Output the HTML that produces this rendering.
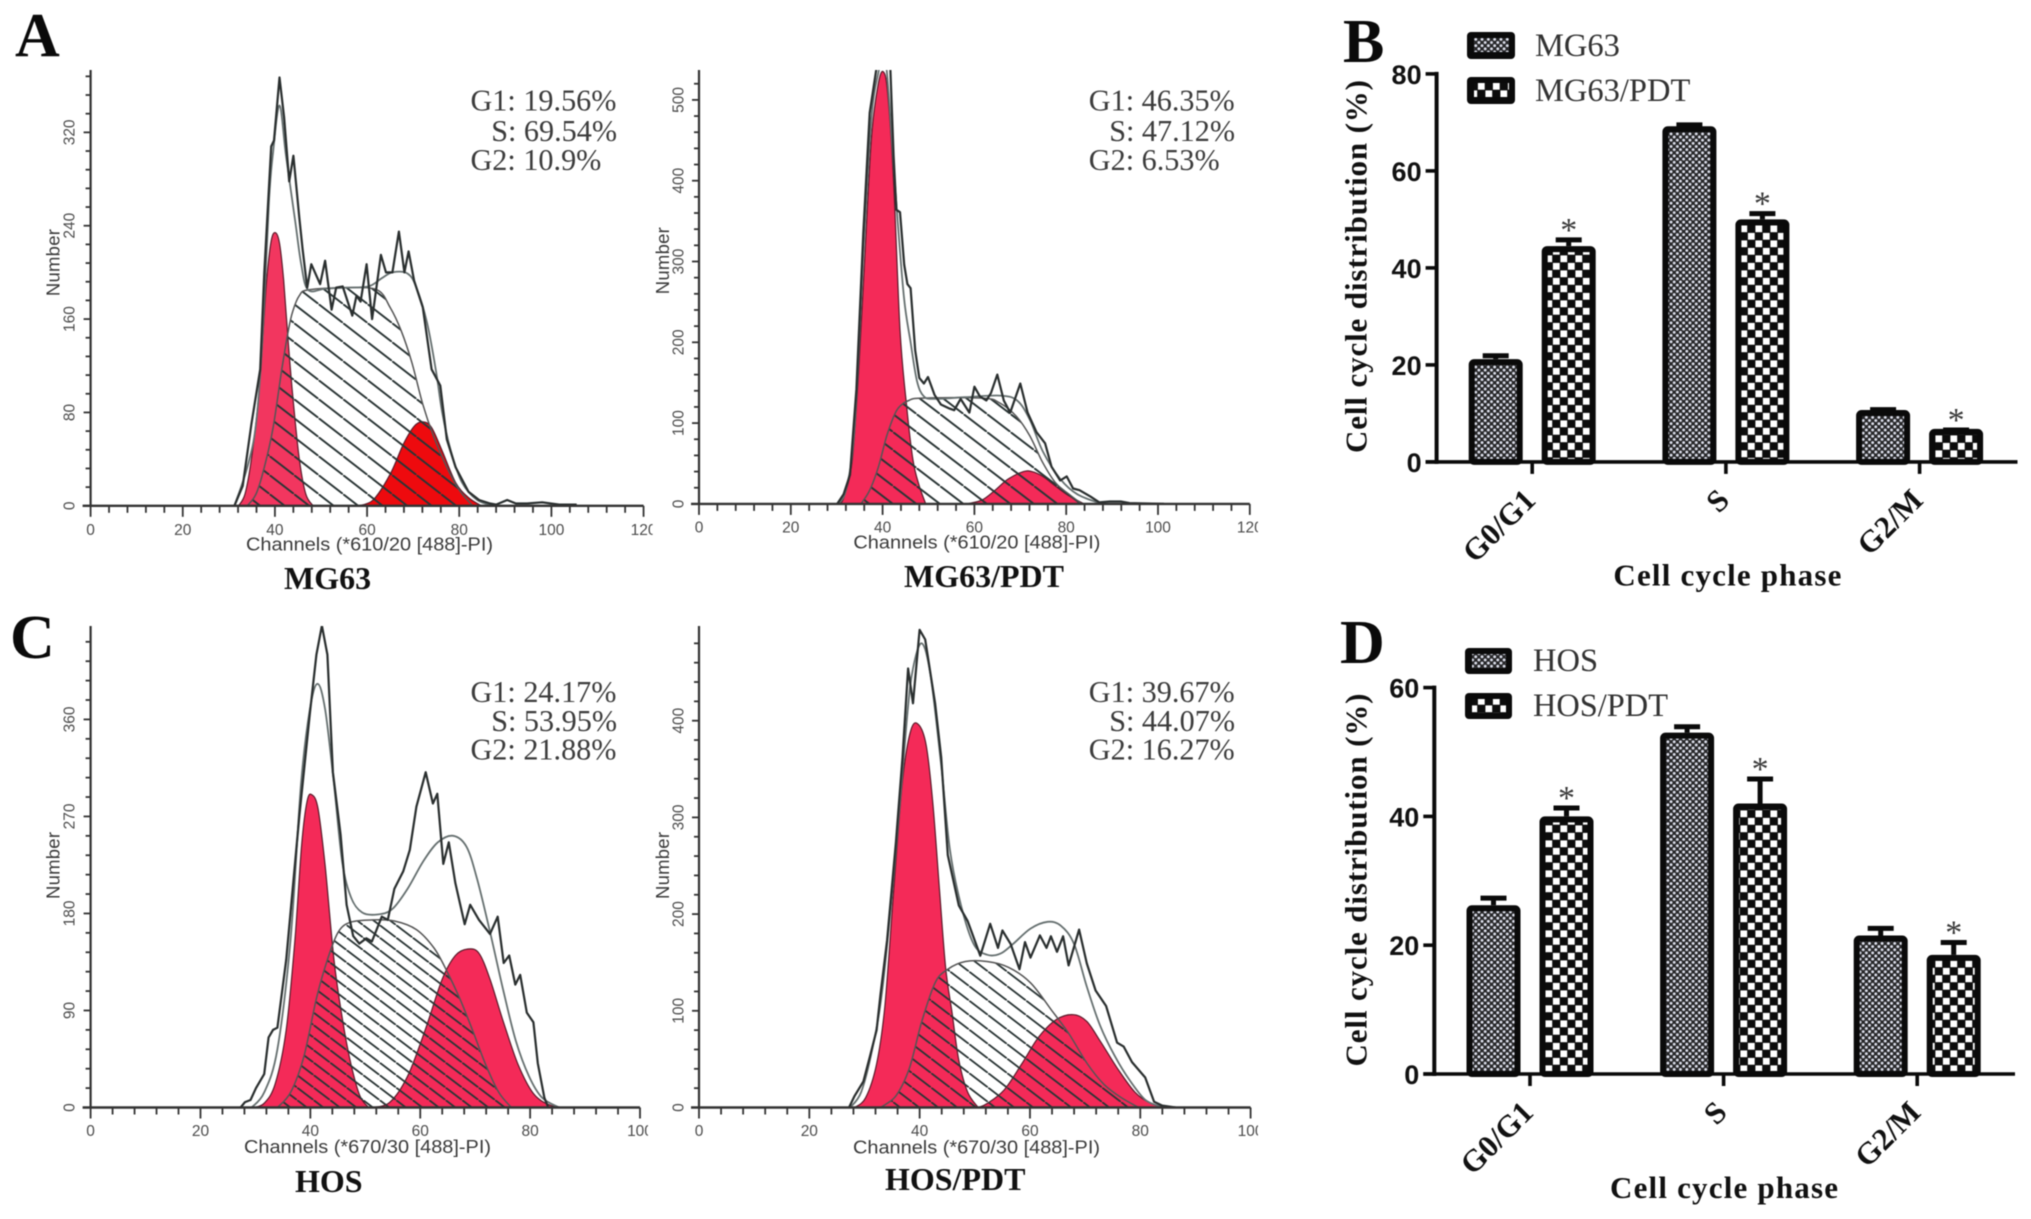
<!DOCTYPE html>
<html lang="en">
<head>
<meta charset="utf-8">
<title>Cell cycle distribution figure</title>
<style>
html,body{margin:0;padding:0;background:#fff;}
#figure{display:block;width:2031px;height:1219px;filter:blur(0.55px);}
.panel-letter{font-family:"Liberation Serif",serif;font-weight:700;font-size:62px;fill:#0a0a0a;}
.caption{font-family:"Liberation Serif",serif;font-weight:700;font-size:32px;fill:#111;}
.stat{font-family:"Liberation Serif",serif;font-size:30.2px;fill:#3c3c3c;}
.legend-text{font-family:"Liberation Serif",serif;font-size:32.5px;fill:#333;}
.axis-title-bar{font-family:"Liberation Serif",serif;font-weight:700;font-size:31px;fill:#111;}
.hist-tick{font-family:"Liberation Sans",sans-serif;font-size:15.5px;fill:#4c4c4c;}
.hist-title{font-family:"Liberation Sans",sans-serif;font-size:18.5px;fill:#3a3a3a;}
.bar-ytick{font-family:"Liberation Sans",sans-serif;font-weight:700;font-size:27px;fill:#111;}
.bar-xtick{font-family:"Liberation Serif",serif;font-weight:700;font-size:31px;fill:#111;}
.star{font-family:"Liberation Serif",serif;font-size:34px;fill:#3a3a3a;}
</style>
</head>
<body>
<svg id="figure" xmlns="http://www.w3.org/2000/svg" width="2031" height="1219" viewBox="0 0 2031 1219">
  <defs>
    <pattern id="hatch-a" patternUnits="userSpaceOnUse" width="24.5" height="19"><path d="M-2.6,-2L27.1,21" stroke="#2a3535" stroke-width="1.9"/></pattern>
    <pattern id="hatch-b" patternUnits="userSpaceOnUse" width="23.5" height="18"><path d="M-2.6,-2L26.1,20" stroke="#2a3535" stroke-width="1.9"/></pattern>
    <pattern id="hatch-c" patternUnits="userSpaceOnUse" width="16.5" height="12.5"><path d="M-2.6,-2L19.1,14.5" stroke="#2a3535" stroke-width="1.8"/></pattern>
    <pattern id="hatch-d" patternUnits="userSpaceOnUse" width="19" height="14.5"><path d="M-2.6,-2L21.6,16.5" stroke="#2a3535" stroke-width="1.8"/></pattern>
    <pattern id="dots" patternUnits="userSpaceOnUse" width="6.3" height="6.3">
      <rect width="6.3" height="6.3" fill="#262628"/>
      <circle cx="1.55" cy="1.55" r="1.45" fill="#dfe2ee"/>
      <circle cx="4.7" cy="4.7" r="1.45" fill="#dfe2ee"/>
    </pattern>
    <pattern id="checker" patternUnits="userSpaceOnUse" width="15" height="15">
      <rect width="15" height="15" fill="#0c0c0c"/>
      <rect x="0.4" y="0.4" width="6.8" height="6.8" fill="#fff"/>
      <rect x="7.9" y="7.9" width="6.8" height="6.8" fill="#fff"/>
    </pattern>
  </defs>
  <rect width="2031" height="1219" fill="#fff"/>

  <text class="panel-letter" x="15" y="56">A</text>
  <text class="panel-letter" x="1343" y="62">B</text>
  <text class="panel-letter" x="10" y="658">C</text>
  <text class="panel-letter" x="1340" y="663">D</text>

  <g id="layer-hist"></g>
  <g id="layer-bars"></g>

  <text class="caption" x="284" y="589">MG63</text>
  <text class="caption" x="904" y="587">MG63/PDT</text>
  <text class="caption" x="295" y="1192">HOS</text>
  <text class="caption" x="885" y="1190">HOS/PDT</text>

  <g>
    <text class="stat" x="470.5" y="110.5">G1: 19.56%</text>
    <text class="stat" x="617" y="141" text-anchor="end">S: 69.54%</text>
    <text class="stat" x="470.5" y="170">G2: 10.9%</text>
  </g>
  <g>
    <text class="stat" x="1088.8" y="110.5">G1: 46.35%</text>
    <text class="stat" x="1235" y="141" text-anchor="end">S: 47.12%</text>
    <text class="stat" x="1088.8" y="170">G2: 6.53%</text>
  </g>
  <g>
    <text class="stat" x="470.5" y="702">G1: 24.17%</text>
    <text class="stat" x="617" y="731" text-anchor="end">S: 53.95%</text>
    <text class="stat" x="470.5" y="759.5">G2: 21.88%</text>
  </g>
  <g>
    <text class="stat" x="1088.8" y="702">G1: 39.67%</text>
    <text class="stat" x="1235" y="731" text-anchor="end">S: 44.07%</text>
    <text class="stat" x="1088.8" y="759.5">G2: 16.27%</text>
  </g>

  <g>
    <g>
      <rect x="1467" y="32" width="48" height="27" rx="4" fill="#0a0a0a"/>
      <rect x="1474" y="38" width="35" height="14" fill="url(#dots)"/>
      <text class="legend-text" x="1535" y="56">MG63</text>
    </g>
    <g>
      <rect x="1467" y="77" width="48" height="27" rx="4" fill="#0a0a0a"/>
      <rect x="1474" y="83" width="35" height="14" fill="url(#checker)"/>
      <text class="legend-text" x="1535" y="101">MG63/PDT</text>
    </g>
  </g>
  <g>
    <g>
      <rect x="1465" y="648" width="47" height="26" rx="4" fill="#0a0a0a"/>
      <rect x="1472" y="654" width="34" height="14" fill="url(#dots)"/>
      <text class="legend-text" x="1533" y="671">HOS</text>
    </g>
    <g>
      <rect x="1465" y="693" width="47" height="26" rx="4" fill="#0a0a0a"/>
      <rect x="1472" y="699" width="34" height="14" fill="url(#checker)"/>
      <text class="legend-text" x="1533" y="716" textLength="135" lengthAdjust="spacingAndGlyphs">HOS/PDT</text>
    </g>
  </g>
</svg>

<script>
/* ---------- Panel A, MG63 histogram: [channel] / [count] ---------- */
const mg63RawCh = [31.2,33,34.9,36.8,37.7,39.2,39.8,41,42,43.1,44,45.3,46,47,47.9,49.8,50.9,52.3,53.3,54.7,56.8,57.7,58.6,59.9,61.1,63,64.1,65.5,66.9,68.1,69,70.2,72.1,74,75.9,77.3,79.2,82,84.3,86.7,88,90.4,92.3,94.7,98,101.7,105.5];
const mg63RawN = [0,17,70,117,200,308,313,367,333,278,300,247,220,187,207,190,210,168,187,188,163,180,175,207,160,215,200,200,235,200,218,193,170,117,103,57,33,12,5,2,1,5,2,2,3,1,1];
const mg63FitCh = [31.2,34,35.9,37.3,38.7,39.6,41,42.4,44.3,45.7,47.2,50.9,55.6,60.3,63.2,65.5,68.8,70.7,73,74.9,76.3,78.2,80.6,83.9,87.6];
const mg63FitN = [0,33,70,143,260,303,343,300,247,207,185,186,187,188,195,200,199,187,157,117,80,47,20,5,0];
const mg63G1Ch = [32.1,33.5,34.9,36.3,37.3,38.2,39.2,40.1,41,41.9,42.9,43.9,45.3,46.7,48.3];
const mg63G1N = [0,10,40,87,140,193,227,234,225,193,140,93,40,10,0];
const mg63SCh = [34,35.9,37.7,39.6,41.5,42.9,43.9,45.3,47.2,55.6,62.2,65,67.4,69.7,72.1,74.4,77.3,80.1,82.9];
const mg63SN = [0,10,33,67,117,150,167,180,185,187,185,170,150,123,87,60,33,13,0];
const mg63G2Ch = [58,61.3,65,67.9,70.2,72.1,74,76.3,79.2,82,84.8];
const mg63G2N = [0,5,27,53,68,72,67,47,20,7,0];

/* ---------- Panel A, MG63/PDT histogram ---------- */
const mg63PdtRawCh = [30.1,31.5,32.9,34.3,35.8,37.2,38.6,40.1,41.7,42.4,43,43.8,44.7,45.4,46.1,47.1,48,49,49.9,51.3,52.7,54.6,55.6,57,58.9,60,61.2,62.6,63.6,65,66.4,67.8,70,71.6,73.5,75.4,76.8,78.7,80.1,81.5,82.9,85.3,87.2,89.5,91.9,93.8,101.3];
const mg63PdtRawN = [0,12,36,142,335,484,537,575,537,431,364,361,296,272,267,190,156,149,157,135,123,118,116,130,113,145,133,128,137,160,128,113,149,113,89,75,46,29,34,19,17,9,2,3,3,1,0];
const mg63PdtFitCh = [30.1,32,33.9,35.8,37.6,39.2,40.1,40.9,42.4,43.3,44.7,46.1,47.5,49,51.3,57.9,65.5,69.3,72.1,74.9,78.7,82.4,87.2];
const mg63PdtFitN = [0,17,94,311,480,537,561,537,420,349,253,200,152,133,130,132,134,128,104,65,31,12,1];
const mg63PdtG1Ch = [30.1,31.5,33.4,34.8,36.2,37.6,39,40.1,41.1,42.4,43.8,45.2,46.6,48,49.4];
const mg63PdtG1N = [0,7,55,166,315,455,518,535,509,398,215,123,55,22,0];
const mg63PdtSCh = [35.3,37.2,39.1,40.9,42.8,44.2,45.7,48.5,61.7,65.5,69.2,72.1,74.9,77.7,80.6,83.4];
const mg63PdtSN = [0,17,46,84,113,123,128,131,131,125,108,84,51,26,12,0];
const mg63PdtG2Ch = [58.4,61.7,64.5,67.4,70.7,72.5,74.9,77.7,80.6,83.9];
const mg63PdtG2N = [0,5,17,31,40,40,34,22,10,0];

/* ---------- Panel C, HOS histogram ---------- */
const hosRawCh = [27.3,28.1,29.1,30.1,31.6,32.4,33.2,34,35.6,38,39.9,41.1,42.1,43.1,44.1,45.5,46.6,47.8,48.9,50.2,51.2,53,54.1,55.3,56.9,58.1,59.3,61,62.3,63.1,64.2,65.2,66.4,68.1,69.1,70.7,72.7,74.1,75.2,76.2,77.3,78.2,79.4,80.6,81.4,82.6,83.3];
const hosRawN = [0,5,7,18,31,65,72,74,137,271,365,420,447,420,311,253,188,159,152,157,154,177,174,203,219,239,279,311,282,291,226,246,208,170,188,174,161,177,134,141,114,123,88,79,41,9,0];
const hosFitCh = [29.3,31.6,34,36.4,38.3,39.9,41.3,42.7,44.3,45.8,47.4,49.4,52.2,54.9,57.7,60.5,63.2,66,68.4,70.3,72.7,75.1,77.4,79.8,82.2,85.3];
const hosFitN = [0,14,54,156,300,369,393,369,300,228,195,181,179,184,203,228,246,252,242,213,163,109,62,29,9,0];
const hosG1Ch = [29.7,31.6,33.6,35.6,37.2,38.4,39.4,40.3,41.4,42.7,44.3,45.9,47.4,49,50.6];
const hosG1N = [0,4,22,72,156,243,284,290,277,224,137,80,40,11,0];
const hosSCh = [34,36.4,38.8,41.1,43.1,45.1,47.4,51.4,55.3,59.3,62.5,64.8,67.2,69.5,71.9,74.3,76.6];
const hosSN = [0,14,47,101,137,163,172,174,173,165,148,127,101,72,40,14,0];
const hosG2Ch = [51.4,54.5,57.7,60.9,64,66.4,68.7,70.7,72.7,75.1,77.8,80.6,83.7,86.9];
const hosG2N = [0,5,29,72,119,141,147,143,119,80,40,13,2,0];

/* ---------- Panel C, HOS/PDT histogram ---------- */
const hosPdtRawCh = [27.2,28.2,29.8,31,32.2,32.9,34.1,35.7,36.9,37.9,38.8,40,41,42.8,43.9,45.1,47.1,48.7,51,52.8,54.2,55,56.5,58.1,59.1,60.1,61.8,63,63.8,64.9,66,67,68.9,70.3,71.9,73.8,75.8,77,78.5,80.9,82.5,84,86.4];
const hosPdtRawN = [0,12,27,53,80,117,173,274,362,454,418,494,484,418,362,261,209,193,157,190,165,183,169,143,171,155,178,165,177,161,177,147,184,149,121,105,67,63,47,31,6,2,0];
const hosPdtFitCh = [27.4,29.4,31.4,33.3,35.7,37.7,38.8,40.4,42,43.9,45.5,47.5,49.8,52.2,54.6,56.9,60.1,63.2,65.6,68,70.3,72.7,75.4,78.1,80.9,83.6];
const hosPdtFitN = [0,16,60,125,266,403,454,480,446,354,266,209,169,158,159,169,185,192,188,169,125,85,53,28,8,1];
const hosPdtG1Ch = [28.2,30.2,32.2,33.7,35.3,36.9,38.4,39.8,41.2,42.4,43.6,44.7,45.9,47.1,48.7,50.6];
const hosPdtG1N = [0,10,45,105,225,338,390,396,374,314,225,145,97,49,16,0];
const hosPdtSCh = [32.9,35.7,38.1,40.4,42.8,45.1,48.3,52.2,56.1,60.1,64,67.1,70.3,73.4,76.6,79.7];
const hosPdtSN = [0,12,40,89,129,143,151,151,145,129,100,76,46,24,10,0];
const hosPdtG2Ch = [50.6,52.2,55.3,58.5,61.6,64.8,67.9,70.3,72.7,75.8,79,81.7,84.4];
const hosPdtG2N = [0,4,18,45,73,91,96,89,69,41,16,5,0];

/* ---------- Histogram tick labels ---------- */
const xLabels120 = ["0","20","40","60","80","100","120"];
const xLabels100 = ["0","20","40","60","80","100"];
const mg63YLabels = ["0","80","160","240","320"];
const mg63PdtYLabels = ["0","100","200","300","400","500"];
const hosYLabels = ["0","90","180","270","360"];
const hosPdtYLabels = ["0","100","200","300","400"];

/* ---------- Bar charts ---------- */
const phases = ["G0/G1","S","G2/M"];
const mg63Pct = [21.2,69.2,10.7];
const mg63Err = [1.2,0.8,0.6];
const mg63PdtPct = [44.5,50,6.8];
const mg63PdtErr = [1.8,1.7,0.3];
const hosPct = [26.2,53,21.5];
const hosErr = [1.5,1.3,1.5];
const hosPdtPct = [40,42,18.5];
const hosPdtErr = [1.7,4.2,2.3];
const barTicksB = ["0","20","40","60","80"];
const barTicksD = ["0","20","40","60"];

const NS = "http://www.w3.org/2000/svg";
function mk(tag, attrs, parent, txt) {
  const e = document.createElementNS(NS, tag);
  for (const k in attrs) e.setAttribute(k, attrs[k]);
  if (txt !== undefined) e.textContent = txt;
  parent.appendChild(e);
  return e;
}
function smoothPath(pts) {
  let d = "M" + pts[0][0].toFixed(1) + "," + pts[0][1].toFixed(1);
  for (let i = 0; i < pts.length - 1; i++) {
    const p0 = pts[Math.max(0, i - 1)], p1 = pts[i], p2 = pts[i + 1], p3 = pts[Math.min(pts.length - 1, i + 2)];
    const c1x = p1[0] + (p2[0] - p0[0]) / 6, c1y = p1[1] + (p2[1] - p0[1]) / 6;
    const c2x = p2[0] - (p3[0] - p1[0]) / 6, c2y = p2[1] - (p3[1] - p1[1]) / 6;
    d += "C" + c1x.toFixed(1) + "," + c1y.toFixed(1) + " " + c2x.toFixed(1) + "," + c2y.toFixed(1) + " " + p2[0].toFixed(1) + "," + p2[1].toFixed(1);
  }
  return d;
}

function drawHistogram(p) {
  const root = document.getElementById("layer-hist");
  const g = mk("g", {}, root);
  
  
  const X = ch => p.ox + ch * p.xPx;
  const Y = n => p.oy - n * p.yPx;
  const pts = (c, n) => c.map((v, i) => [X(v), Y(n[i])]);

  const defs = mk("defs", {}, g);
  const cp = mk("clipPath", { id: "plot-clip-" + p.id }, defs);
  mk("rect", { x: p.ox, y: p.top, width: p.xMax * p.xPx, height: p.oy - p.top }, cp);
  const cpL = mk("clipPath", { id: "label-clip-" + p.id }, defs);
  mk("rect", { x: p.ox - 30, y: p.oy, width: p.labelClip - p.ox + 30, height: 50 }, cpL);

  const plot = mk("g", { "clip-path": "url(#plot-clip-" + p.id + ")" }, g);

  const g1 = mk("path", { d: smoothPath(pts(p.g1Ch, p.g1N)) + "Z", fill: p.g1Color, stroke: "#5a1a2a", "stroke-width": 1.2 }, plot);
  
  
  const g2 = mk("path", { d: smoothPath(pts(p.g2Ch, p.g2N)) + "Z", fill: p.g2Color, stroke: "#5a1a2a", "stroke-width": 1.2 }, plot);
  
  
  const s = mk("path", { d: smoothPath(pts(p.sCh, p.sN)) + "Z", fill: "url(#" + p.hatch + ")", stroke: "#555", "stroke-width": 1.5 }, plot);
  
  
  const fit = mk("path", { d: smoothPath(pts(p.fitCh, p.fitN)), fill: "none", stroke: "#667070", "stroke-width": 1.8 }, plot);
  
  
  const raw = mk("polyline", { points: pts(p.rawCh, p.rawN).map(q => q[0].toFixed(1) + "," + q[1].toFixed(1)).join(" "), fill: "none", stroke: "#2a2f2f", "stroke-width": 2.2, "stroke-linejoin": "round" }, plot);
  
  

  const axes = mk("g", { stroke: "#333", fill: "none" }, g);
  
  
  mk("line", { x1: p.ox, y1: p.top, x2: p.ox, y2: p.oy + 1, "stroke-width": 2.2 }, axes);
  mk("line", { x1: p.ox - 8, y1: p.oy, x2: X(p.xMax), y2: p.oy, "stroke-width": 2.4 }, axes);
  for (let c = 0; c <= p.xMax; c += 4) {
    const major = c % 20 === 0;
    mk("line", { x1: X(c), y1: p.oy, x2: X(c), y2: p.oy + (major ? 11 : 7), "stroke-width": 1.8 }, axes);
  }
  for (let n = 0; n <= p.yTop; n += p.yMinor) {
    const major = n % p.yMajor === 0;
    mk("line", { x1: p.ox, y1: Y(n), x2: p.ox - (major ? 7 : 5), y2: Y(n), "stroke-width": 1.8 }, axes);
  }
  const xl = mk("g", { "clip-path": "url(#label-clip-" + p.id + ")" }, g);
  
  
  p.xLabels.forEach(t => {
    mk("text", { class: "hist-tick", x: X(+t), y: p.xTickY, "text-anchor": "middle" }, xl, t);
  });
  const yl = mk("g", {}, g);
  
  
  p.yLabels.forEach(t => {
    mk("text", { class: "hist-tick", x: p.yTickX, y: Y(+t), "text-anchor": "middle", transform: "rotate(-90 " + p.yTickX + " " + Y(+t) + ")" }, yl, t);
  });
  const xt = mk("text", { class: "hist-title", x: p.xTitleX, y: p.xTitleY, textLength: 247, lengthAdjust: "spacingAndGlyphs" }, g, p.xTitle);
  
  
  const yt = mk("text", { class: "hist-title", x: p.numX, y: p.numY, "text-anchor": "middle", transform: "rotate(-90 " + p.numX + " " + p.numY + ")", textLength: 67 }, g, "Number");
  
  
}

function drawBars(c) {
  const root = document.getElementById("layer-bars");
  const g = mk("g", {}, root);
  
  
  const Y = v => c.y0 - v * c.yPx;
  const catX = i => c.x0 + i * c.step;
  const barW = 48, sw = 6;

  [[c.a, c.aErr, "dots", -36.5, c.aName, false], [c.b, c.bErr, "checker", 36.5, c.bName, true]].forEach(s => {
    phases.forEach((ph, i) => {
      const cx = catX(i) + s[3], v = s[0][i], top = Y(v), errTop = Y(v + s[1][i]);
      const err = mk("path", { d: "M" + cx + "," + top + "L" + cx + "," + (errTop + 2.5) + "M" + (cx - 13) + "," + (errTop + 2.5) + "L" + (cx + 13) + "," + (errTop + 2.5), stroke: "#0a0a0a", "stroke-width": 5, fill: "none" }, g);
      
      
      const r = mk("rect", { x: cx - barW / 2, y: top + sw / 2, width: barW, height: c.y0 - top - sw / 2, rx: 2.5, fill: "url(#" + s[2] + ")", stroke: "#0a0a0a", "stroke-width": sw }, g);
      
      
      if (s[5]) {
        const st = mk("text", { class: "star", x: cx, y: errTop + 3.5, "text-anchor": "middle" }, g, "*");
        
        
      }
    });
  });

  const axes = mk("g", { stroke: "#0a0a0a", fill: "none" }, g);
  
  
  mk("line", { x1: c.yAxisX, y1: Y(c.yMax) - 2, x2: c.yAxisX, y2: c.y0 + 2, "stroke-width": 4 }, axes);
  mk("line", { x1: c.yAxisX - 11, y1: c.y0, x2: c.xEnd, y2: c.y0, "stroke-width": 3.6 }, axes);
  c.ticks.forEach(t => {
    const tick = mk("line", { x1: c.yAxisX - 11, y1: Y(+t), x2: c.yAxisX, y2: Y(+t), "stroke-width": 3.6 }, axes);
    
    
    const l = mk("text", { class: "bar-ytick", x: c.yAxisX - 15, y: Y(+t) + 10, "text-anchor": "end" }, g, t);
    
    
  });
  phases.forEach((ph, i) => {
    const tick = mk("line", { x1: catX(i), y1: c.y0, x2: catX(i), y2: c.y0 + 12, "stroke-width": 3.6 }, axes);
    
    
    const ax = catX(i) + 5, ay = c.y0 + 40;
    const l = mk("text", { class: "bar-xtick", x: ax, y: ay, "text-anchor": "end", transform: "rotate(-45 " + ax + " " + ay + ")" }, g, ph);
    
    
  });
  const xt = mk("text", { class: "axis-title-bar", x: c.xTitleX, y: c.xTitleY, textLength: 228, lengthAdjust: "spacing" }, g, "Cell cycle phase");
  
  
  const yt = mk("text", { class: "axis-title-bar", x: c.yTitleX, y: c.yTitleY, "text-anchor": "middle", transform: "rotate(-90 " + c.yTitleX + " " + c.yTitleY + ")", textLength: 373, lengthAdjust: "spacing" }, g, "Cell cycle distribution (%)");
  
  
}

const pink = "#f42a58";
drawHistogram({ id: "mg63", ox: 90.6, oy: 505.8, xPx: 4.608, yPx: 1.167, top: 70, xMax: 120, yTop: 368, yMinor: 16, yMajor: 80, hatch: "hatch-a", g1Color: "#f2365f", g2Color: "#ee0a0e", labelClip: 652.6, xLabels: xLabels120, yLabels: mg63YLabels, xTickY: 535, yTickX: 74.6, xTitle: "Channels (*610/20 [488]-PI)", xTitleX: 246, xTitleY: 550.6, numX: 59.5, numY: 262.6,
  rawCh: mg63RawCh, rawN: mg63RawN, fitCh: mg63FitCh, fitN: mg63FitN, g1Ch: mg63G1Ch, g1N: mg63G1N, sCh: mg63SCh, sN: mg63SN, g2Ch: mg63G2Ch, g2N: mg63G2N });
drawHistogram({ id: "mg63-pdt", ox: 699, oy: 503.9, xPx: 4.59, yPx: 0.808, top: 70, xMax: 120, yTop: 520, yMinor: 20, yMajor: 100, hatch: "hatch-b", g1Color: pink, g2Color: pink, labelClip: 1258, xLabels: xLabels120, yLabels: mg63PdtYLabels, xTickY: 532.3, yTickX: 683.4, xTitle: "Channels (*610/20 [488]-PI)", xTitleX: 853.4, xTitleY: 548.6, numX: 669, numY: 260.7,
  rawCh: mg63PdtRawCh, rawN: mg63PdtRawN, fitCh: mg63PdtFitCh, fitN: mg63PdtFitN, g1Ch: mg63PdtG1Ch, g1N: mg63PdtG1N, sCh: mg63PdtSCh, sN: mg63PdtSN, g2Ch: mg63PdtG2Ch, g2N: mg63PdtG2N });
drawHistogram({ id: "hos", ox: 90.6, oy: 1107.5, xPx: 5.494, yPx: 1.078, top: 626, xMax: 100, yTop: 432, yMinor: 18, yMajor: 90, hatch: "hatch-c", g1Color: pink, g2Color: pink, labelClip: 648, xLabels: xLabels100, yLabels: hosYLabels, xTickY: 1136, yTickX: 74.6, xTitle: "Channels (*670/30 [488]-PI)", xTitleX: 244, xTitleY: 1153, numX: 59.5, numY: 865.5,
  rawCh: hosRawCh, rawN: hosRawN, fitCh: hosFitCh, fitN: hosFitN, g1Ch: hosG1Ch, g1N: hosG1N, sCh: hosSCh, sN: hosSN, g2Ch: hosG2Ch, g2N: hosG2N });
drawHistogram({ id: "hos-pdt", ox: 699, oy: 1107.5, xPx: 5.516, yPx: 0.967, top: 626, xMax: 100, yTop: 480, yMinor: 20, yMajor: 100, hatch: "hatch-d", g1Color: pink, g2Color: pink, labelClip: 1258, xLabels: xLabels100, yLabels: hosPdtYLabels, xTickY: 1136, yTickX: 683.4, xTitle: "Channels (*670/30 [488]-PI)", xTitleX: 853, xTitleY: 1153.7, numX: 669, numY: 865.5,
  rawCh: hosPdtRawCh, rawN: hosPdtRawN, fitCh: hosPdtFitCh, fitN: hosPdtFitN, g1Ch: hosPdtG1Ch, g1N: hosPdtG1N, sCh: hosPdtSCh, sN: hosPdtSN, g2Ch: hosPdtG2Ch, g2N: hosPdtG2N });

drawBars({ id: "mg63", y0: 461.9, yPx: 4.85, yMax: 80, x0: 1532.2, step: 193.7, yAxisX: 1436.6, xEnd: 2017.5, ticks: barTicksB, a: mg63Pct, aErr: mg63Err, aName: "mg63", b: mg63PdtPct, bErr: mg63PdtErr, bName: "mg63-pdt", xTitleX: 1613.4, xTitleY: 585.6, yTitleX: 1366.7, yTitleY: 266.5 });
drawBars({ id: "hos", y0: 1074, yPx: 6.44, yMax: 60, x0: 1530, step: 193.6, yAxisX: 1434.3, xEnd: 2015, ticks: barTicksD, a: hosPct, aErr: hosErr, aName: "hos", b: hosPdtPct, bErr: hosPdtErr, bName: "hos-pdt", xTitleX: 1610, xTitleY: 1198, yTitleX: 1366.7, yTitleY: 880 });
</script>
</body>
</html>
